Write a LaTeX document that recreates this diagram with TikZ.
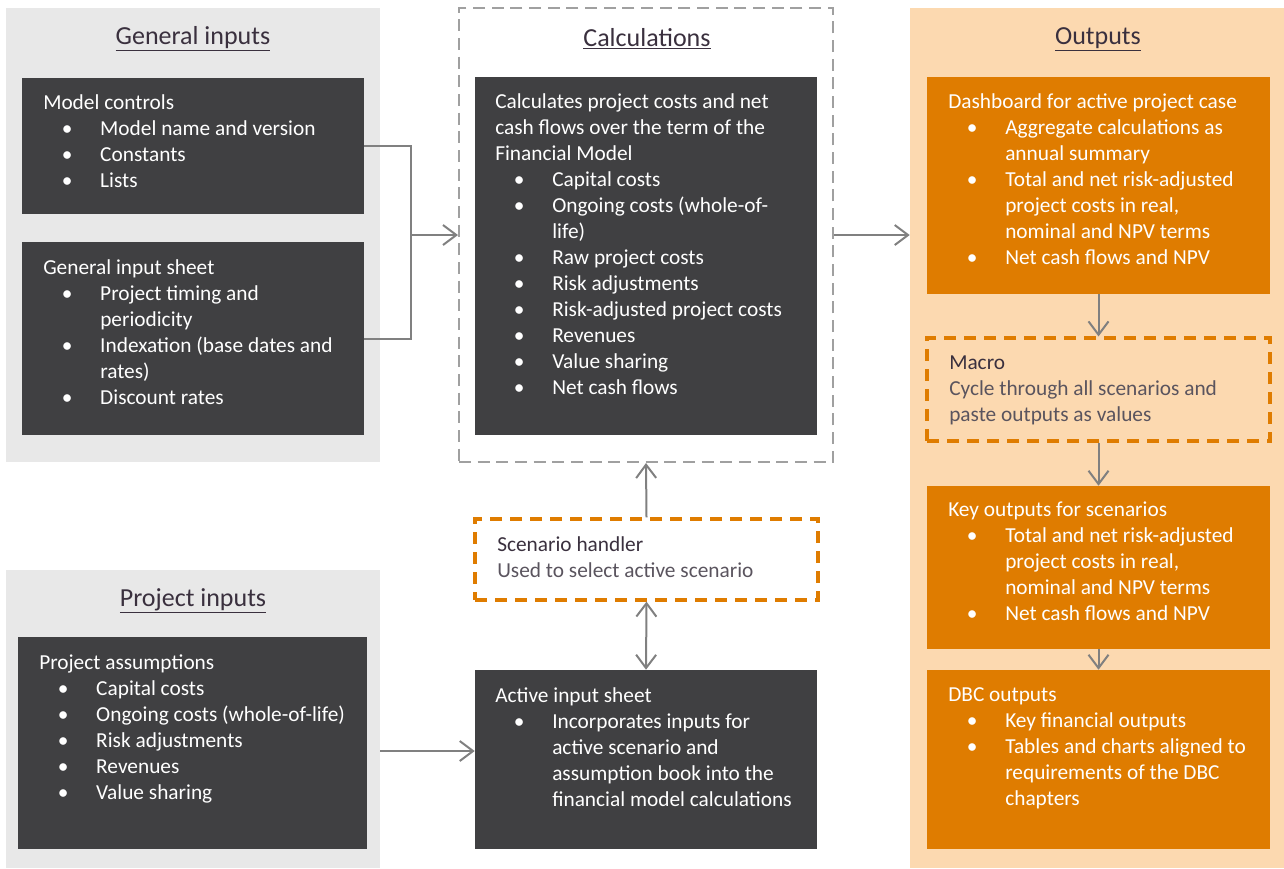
\documentclass[tikz,border=0pt]{standalone}
\usepackage{fontspec}
\setmainfont{Carlito}
\usetikzlibrary{arrows.meta,fit}
\definecolor{panelgrey}{RGB}{232,232,232}
\definecolor{boxgrey}{RGB}{64,64,66}
\definecolor{outorange}{RGB}{223,124,0}
\definecolor{outpeach}{RGB}{252,217,176}
\definecolor{linegrey}{RGB}{128,128,128}
\definecolor{framegrey}{RGB}{160,160,160}
\definecolor{headcol}{RGB}{58,48,62}
\definecolor{softtext}{RGB}{90,84,94}
\newcommand{\bl}[1]{\makebox[42.75pt][l]{\hspace*{14pt}\textbullet}#1}
\newcommand{\cn}[1]{\hspace*{42.75pt}#1}
\tikzset{
  panel/.style={fill=panelgrey, inner sep=0pt},
  darkbox/.style={fill=boxgrey, inner sep=0pt},
  orangebox/.style={fill=outorange, inner sep=0pt},
  dashbox/.style={draw=outorange, line width=2.4pt, dash pattern=on 9pt off 6pt, inner sep=0pt},
  heading/.style={font=\fontsize{19.5}{23}\selectfont, text=headcol},
  boxtext/.style={anchor=north west, align=left, inner sep=0pt, font=\fontsize{16}{19.5}\selectfont,
    text=white, execute at begin node=\rule{0pt}{12pt}},
  conn/.style={draw=linegrey, line width=1.5pt},
  arr/.style={conn, -{Straight Barb[length=10pt,width=15pt]}},
  twoarr/.style={conn, {Straight Barb[length=10pt,width=15pt]}-{Straight Barb[length=10pt,width=15pt]}}
}
\begin{document}
\begin{tikzpicture}[x=0.75pt,y=-0.75pt]
\useasboundingbox (0,0) rectangle (1284,868);

\node[panel, fit={(6,8) (380,462)}] (genbg) {};
\node[panel, fit={(6,570) (380,868)}] (prjbg) {};
\node[fit={(910,8) (1284,868)}, fill=outpeach, inner sep=0pt] (outbg) {};
\node[fit={(459,8) (833,462)}, draw=framegrey, line width=1.5pt, dash pattern=on 9pt off 5pt, inner sep=0pt] (calcbg) {};

\node[heading] (genhead) at (193,39) {\underline{General inputs}};
\node[heading] (calchead) at (647,39) {\underline{Calculations}};
\node[heading] (prjhead) at (193,601) {\underline{Project inputs}};
\node[heading] (outhead) at (1098,39) {\underline{Outputs}};

\node[darkbox, fit={(22,78) (364,214)}] (ctrl) {};
\node[darkbox, fit={(22,242) (364,435)}] (sheet) {};
\node[darkbox, fit={(18,637) (367,849)}] (assume) {};
\node[darkbox, fit={(475,77) (817,435)}] (calc) {};
\node[dashbox, fit={(475,519) (818,600)}] (scen) {};
\node[darkbox, fit={(475,670) (817,849)}] (active) {};
\node[orangebox, fit={(927,77) (1270,294)}] (board) {};
\node[dashbox, fit={(927,338) (1270,441)}] (macro) {};
\node[orangebox, fit={(927,486) (1270,649)}] (keyout) {};
\node[orangebox, fit={(927,670) (1270,849)}] (dbc) {};

\node[boxtext] (ctrltxt) at (43,94) {Model controls\\
  \bl{Model name and version}\\ \bl{Constants}\\ \bl{Lists}};
\node[boxtext] (sheettxt) at (43,259) {General input sheet\\
  \bl{Project timing and}\\ \cn{periodicity}\\ \bl{Indexation (base dates and}\\
  \cn{rates)}\\ \bl{Discount rates}};
\node[boxtext] (assumetxt) at (39,654) {Project assumptions\\
  \bl{Capital costs}\\ \bl{Ongoing costs (whole-of-life)}\\ \bl{Risk adjustments}\\
  \bl{Revenues}\\ \bl{Value sharing}};
\node[boxtext] (calctxt) at (495,93) {Calculates project costs and net\\
  cash flows over the term of the\\ Financial Model\\
  \bl{Capital costs}\\ \bl{Ongoing costs (whole-of-}\\ \cn{life)}\\
  \bl{Raw project costs}\\ \bl{Risk adjustments}\\ \bl{Risk-adjusted project costs}\\
  \bl{Revenues}\\ \bl{Value sharing}\\ \bl{Net cash flows}};
\node[boxtext, text=headcol] (scentxt) at (497,536) {Scenario handler\\
  \textcolor{softtext}{Used to select active scenario}};
\node[boxtext] (activetxt) at (495,687) {Active input sheet\\
  \bl{Incorporates inputs for}\\ \cn{active scenario and}\\
  \cn{assumption book into the}\\ \cn{financial model calculations}};
\node[boxtext] (boardtxt) at (948,93) {Dashboard for active project case\\
  \bl{Aggregate calculations as}\\ \cn{annual summary}\\
  \bl{Total and net risk-adjusted}\\ \cn{project costs in real,}\\
  \cn{nominal and NPV terms}\\ \bl{Net cash flows and NPV}};
\node[boxtext, text=headcol] (macrotxt) at (949,356) {Macro\\
  \textcolor{softtext}{Cycle through all scenarios and}\\
  \textcolor{softtext}{paste outputs as values}};
\node[boxtext] (keyouttxt) at (948,502) {Key outputs for scenarios\\
  \bl{Total and net risk-adjusted}\\ \cn{project costs in real,}\\
  \cn{nominal and NPV terms}\\ \bl{Net cash flows and NPV}};
\node[boxtext] (dbctxt) at (948,687) {DBC outputs\\
  \bl{Key financial outputs}\\ \bl{Tables and charts aligned to}\\
  \cn{requirements of the DBC}\\ \cn{chapters}};

\coordinate (join) at (411,235);
\coordinate (prjout) at (380,751);
\draw[conn] (ctrl.east) -| (join) |- (sheet.east);
\draw[arr] (join) -- (calcbg.west);
\draw[arr] (calcbg.east) -- (calcbg.east -| outbg.west);
\draw[arr] (board.south) -- (macro.north);
\draw[arr] (macro.south) -- (keyout.north);
\draw[arr] (keyout.south) -- (dbc.north);
\draw[arr] (scen.north) -- (calcbg.south);
\draw[twoarr] (scen.south) -- (active.north);
\draw[arr] (prjout) -- (prjout -| active.west);
\end{tikzpicture}
\end{document}
